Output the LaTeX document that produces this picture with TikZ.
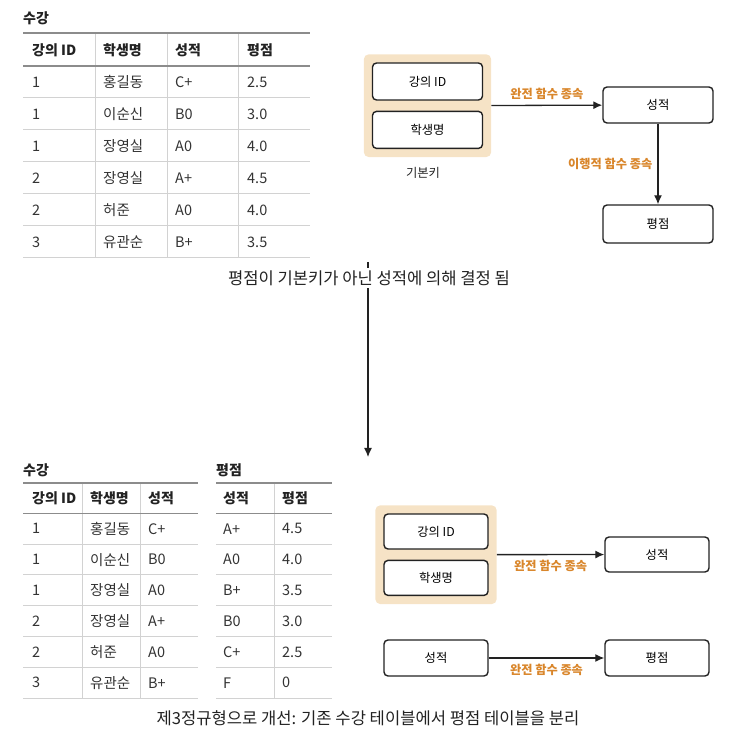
\documentclass[tikz,border=0pt]{standalone}
\usepackage{fontspec}
\setmainfont{Noto Sans CJK KR}
\usepackage{tikz}
\usetikzlibrary{arrows.meta,fit,positioning,backgrounds}
\definecolor{DepOrange}{HTML}{D9862B}
\definecolor{KeyBeige}{HTML}{F6E3C6}
\definecolor{BoxInk}{HTML}{222222}
\definecolor{TabInk}{HTML}{333333}
\definecolor{RuleDark}{HTML}{8C8C8C}
\definecolor{RuleLight}{HTML}{D2D2D2}
\tikzset{
  >={Latex[length=9pt,width=8pt]},
  flow/.style={->,line width=1.3pt,draw=BoxInk},
  attrbox/.style={draw=BoxInk,line width=1.4pt,fill=white,rounded corners=4pt,
    minimum width=110pt,minimum height=37pt,font=\fontsize{12.3}{14}\selectfont},
  keybox/.style={fill=KeyBeige,rounded corners=5pt,inner sep=8pt},
  deplabel/.style={text=DepOrange,inner sep=5pt,font=\fontsize{12.2}{14}\selectfont\bfseries},
  keylabel/.style={text=BoxInk,font=\fontsize{12.3}{14}\selectfont},
  caption/.style={text=BoxInk,inner sep=2pt,font=\fontsize{16.6}{19}\selectfont},
  tabtitle/.style={anchor=west,inner sep=0pt,text=BoxInk,font=\fontsize{14}{16}\selectfont\bfseries},
  cell/.style={anchor=west,inner sep=0pt,text=TabInk,font=\fontsize{14.5}{16}\selectfont},
  headcell/.style={cell,text=BoxInk,font=\fontsize{14}{16}\selectfont\bfseries},
  headrule/.style={draw=RuleDark,line width=1.6pt},
  rowrule/.style={draw=RuleLight,line width=1pt},
  colrule/.style={draw=RuleLight,line width=0.8pt}
}
\begin{document}
\begin{tikzpicture}[x=1pt,y=-1pt]
  \useasboundingbox (0,0) rectangle (753,751);

  % table before: 수강 with 평점
  \node[tabtitle] (t1title) at (23,18) {수강};
  \foreach \x in {95,167,238} \draw[colrule] (\x,33) -- (\x,258);
  \foreach \k in {1,...,6} \draw[rowrule] (23,66+32*\k) -- (310,66+32*\k);
  \draw[headrule] (23,33) -- (310,33);
  \draw[headrule] (23,66) -- (310,66);
  \node[headcell] (t1h1) at (32,50) {강의 ID};
  \node[headcell] (t1h2) at (103,50) {학생명};
  \node[headcell] (t1h3) at (175,50) {성적};
  \node[headcell] (t1h4) at (247,50) {평점};
  \foreach \c/\n/\g/\p [count=\i] in {1/홍길동/C+/2.5,1/이순신/B0/3.0,1/장영실/A0/4.0,
      2/장영실/A+/4.5,2/허준/A0/4.0,3/유관순/B+/3.5} {
    \node[cell] (t1-\i-1) at (32,50+32*\i) {\c};
    \node[cell] (t1-\i-2) at (103,50+32*\i) {\n};
    \node[cell] (t1-\i-3) at (175,50+32*\i) {\g};
    \node[cell] (t1-\i-4) at (247,50+32*\i) {\p};
  }

  % dependencies before
  \node[attrbox] (lid) at (427.5,81.5) {강의 ID};
  \node[attrbox,below=10pt of lid] (sname) {학생명};
  \begin{scope}[on background layer]
    \node[keybox,fit=(lid)(sname)] (pk) {};
  \end{scope}
  \node[keylabel] (pklabel) at (423,173) {기본키};
  \node[attrbox,minimum height=36pt] (grade) at (658,105) {성적};
  \node[attrbox,minimum height=38pt] (gpa) at (658,224) {평점};
  \draw[flow] (pk) -- (grade) node[midway,above,deplabel] {완전 함수 종속};
  \draw[flow] (grade) -- (gpa) node[midway,left,deplabel] {이행적 함수 종속};

  % step down
  \coordinate (stepstart) at (368,262);
  \coordinate (stepend) at (368,457);
  \draw[flow,line width=1.2pt] (stepstart) -- (stepend);
  \node[caption,fill=white] (cap1) at (369,278) {평점이 기본키가 아닌 성적에 의해 결정 됨};

  % tables after: 수강 and 평점
  \node[tabtitle] (t2title) at (23,470) {수강};
  \node[tabtitle] (t3title) at (216,470) {평점};
  \foreach \x in {82,140} \draw[colrule] (\x,483) -- (\x,698);
  \draw[colrule] (274,483) -- (274,698);
  \foreach \k in {1,...,6} {
    \draw[rowrule] (23,513.3+30.8*\k) -- (198,513.3+30.8*\k);
    \draw[rowrule] (216,513.3+30.8*\k) -- (332,513.3+30.8*\k);
  }
  \draw[headrule] (23,483) -- (198,483);
  \draw[headrule] (23,513.3) -- (198,513.3);
  \draw[headrule] (216,483) -- (332,483);
  \draw[headrule] (216,513.3) -- (332,513.3);
  \node[headcell] (t2h1) at (32,498) {강의 ID};
  \node[headcell] (t2h2) at (90,498) {학생명};
  \node[headcell] (t2h3) at (148,498) {성적};
  \node[headcell] (t3h1) at (223,498) {성적};
  \node[headcell] (t3h2) at (282,498) {평점};
  \foreach \c/\n/\g/\s/\p [count=\i] in {1/홍길동/C+/A+/4.5,1/이순신/B0/A0/4.0,1/장영실/A0/B+/3.5,
      2/장영실/A+/B0/3.0,2/허준/A0/C+/2.5,3/유관순/B+/F/0} {
    \node[cell] (t2-\i-1) at (32,498+30.8*\i) {\c};
    \node[cell] (t2-\i-2) at (90,498+30.8*\i) {\n};
    \node[cell] (t2-\i-3) at (148,498+30.8*\i) {\g};
    \node[cell] (t3-\i-1) at (223,498+30.8*\i) {\s};
    \node[cell] (t3-\i-2) at (282,498+30.8*\i) {\p};
  }

  % dependencies after
  \node[attrbox,minimum width=104pt,minimum height=35pt] (lid2) at (436,531.5) {강의 ID};
  \node[attrbox,minimum width=104pt,minimum height=35pt,below=10pt of lid2] (sname2) {학생명};
  \begin{scope}[on background layer]
    \node[keybox,fit=(lid2)(sname2)] (pk2) {};
  \end{scope}
  \node[attrbox,minimum width=104pt,minimum height=35pt] (grade2) at (657,554.5) {성적};
  \draw[flow] (pk2) -- (grade2) node[midway,below,deplabel] {완전 함수 종속};
  \node[attrbox,minimum width=104pt,minimum height=36pt] (grade3) at (436,658) {성적};
  \node[attrbox,minimum width=104pt,minimum height=36pt] (gpa2) at (657,658) {평점};
  \draw[flow] (grade3) -- (gpa2) node[midway,below,deplabel] {완전 함수 종속};

  \node[caption] (cap2) at (368,718) {제3정규형으로 개선: 기존 수강 테이블에서 평점 테이블을 분리};
\end{tikzpicture}
\end{document}
